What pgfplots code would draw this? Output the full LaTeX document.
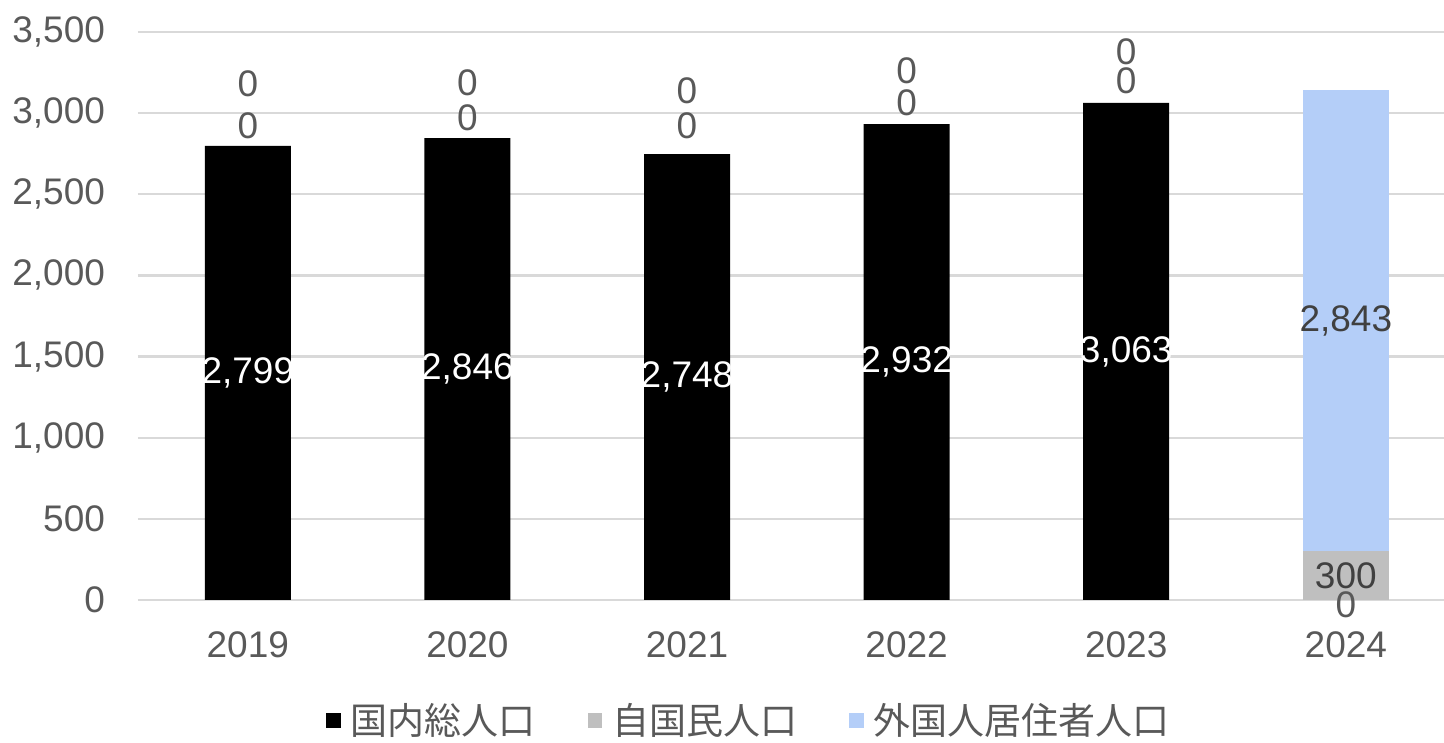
\documentclass[border=0pt]{standalone}
\usepackage{pgfplots}
\pgfplotsset{compat=1.18}
\usepackage{pgfplotstable}
\usetikzlibrary{calc}
\usepackage{fontspec}
\setmainfont{Liberation Sans}
\newfontfamily\jp{Noto Sans CJK JP}
\definecolor{cgray}{HTML}{BFBFBF}
\definecolor{cblue}{HTML}{B4CEF8}
\definecolor{cgrid}{HTML}{D9D9D9}
\definecolor{ctext}{HTML}{595959}
\definecolor{cdark}{HTML}{404040}

\pgfplotstableread{
x tot own foreign
0 2799 0 0
1 2846 0 0
2 2748 0 0
3 2932 0 0
4 3063 0 0
5 0 300 2843
}\data

\pgfplotstableread{
x y lab
0 1399.5 2,799
1 1423 2,846
2 1374 2,748
3 1466 2,932
4 1531.5 3,063
}\whitelab

\pgfplotstableread{
x y lab
0 2925 0
0 3183 0
1 2974 0
1 3190 0
2 2925 0
2 3140 0
3 3067 0
3 3264 0
4 3202 0
4 3381 0
5 -31 0
}\greylab

\pgfplotstableread{
x y lab
5 150 300
5 1721.5 2,843
}\darklab

\pgfplotsset{
  base/.style={
    width=653pt, height=284pt, scale only axis,
    xmin=-0.5, xmax=5.447, ymin=0, ymax=3500,
    clip=false,
  },
  sq/.style={legend image code/.code={\fill[#1] (0pt,-3.6pt) rectangle (7.2pt,3.6pt);}},
}

\begin{document}
\begin{tikzpicture}
\begin{axis}[base, name=ax,
  ybar stacked, bar width=43pt,
  axis x line*=bottom, axis y line*=left,
  x axis line style={draw=cgrid, line width=1.2pt, -},
  y axis line style={draw=none},
  major tick length=0pt,
  ymajorgrids, grid style={draw=cgrid, line width=1.2pt},
  ytick={0,500,...,3500},
  xtick={0,...,5}, xticklabels={2019,2020,2021,2022,2023,2024},
  scaled y ticks=false,
  /pgf/number format/1000 sep={,},
  /pgf/number format/assume math mode=true,
  ticklabel style={font=\fontsize{18.5}{21}\selectfont, text=ctext},
  yticklabel style={xshift=-13pt},
  xticklabel style={yshift=-12.5pt},
  legend columns=3,
  legend style={at={(0.4686,-0.212)}, anchor=center, draw=none, fill=none,
    font=\jp\fontsize{18.5}{21}\selectfont, text=ctext,
    /tikz/every odd column/.append style={column sep=3pt},
    /tikz/every even column/.append style={column sep=24pt}},
]
\addplot[fill=black, draw=none, sq] table[x=x, y=tot] {\data};
\addlegendentry{国内総人口}
\addplot[fill=cgray, draw=none, sq] table[x=x, y=own] {\data};
\addlegendentry{自国民人口}
\addplot[fill=cblue, draw=none, sq] table[x=x, y=foreign] {\data};
\addlegendentry{外国人居住者人口}
\end{axis}
\begin{axis}[base, hide axis,
  nodes near coords, point meta=explicit symbolic,
]
\addplot[draw=none, mark=none, every node near coord/.style={anchor=center, inner sep=0pt, text=white, font=\fontsize{18.5}{21}\selectfont}] table[x=x, y=y, meta=lab] {\whitelab};
\addplot[draw=none, mark=none, every node near coord/.style={anchor=center, inner sep=0pt, text=ctext, font=\fontsize{18.5}{21}\selectfont}] table[x=x, y=y, meta=lab] {\greylab};
\addplot[draw=none, mark=none, every node near coord/.style={anchor=center, inner sep=0pt, text=cdark, font=\fontsize{18.5}{21}\selectfont}] table[x=x, y=y, meta=lab] {\darklab};
\end{axis}
\pgfresetboundingbox
\useasboundingbox ($(ax.south west)+(-69pt,-71.5pt)$) rectangle ($(ax.north east)+(0pt,16pt)$);
\end{tikzpicture}
\end{document}
